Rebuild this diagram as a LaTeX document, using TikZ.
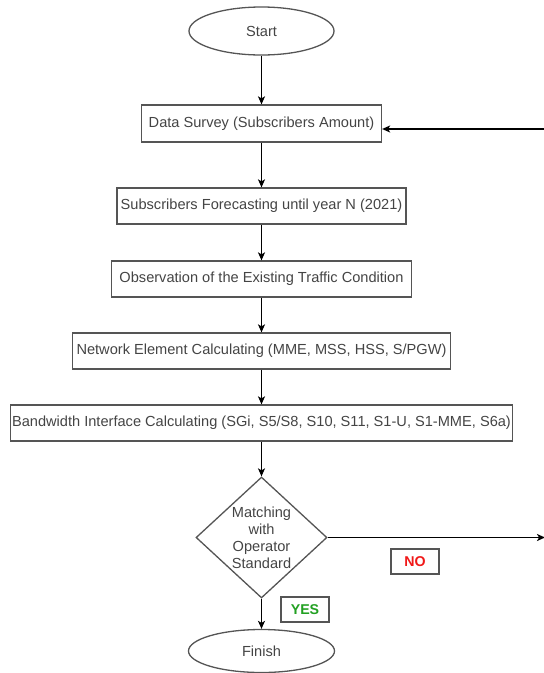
\documentclass[tikz,border=0pt]{standalone}
\usepackage{fontspec}
\setmainfont{Liberation Sans}
\usetikzlibrary{shapes.geometric,arrows.meta}
\definecolor{bordergray}{HTML}{555555}
\definecolor{txtgray}{HTML}{444444}
\definecolor{yesgreen}{HTML}{22A022}
\definecolor{nored}{HTML}{F01818}
\tikzset{
  procbox/.style={draw=bordergray, line width=1.3pt, rectangle, inner sep=0pt, text=txtgray, font=\fontsize{14.6}{16}\selectfont},
  termnode/.style={draw=bordergray, line width=1.3pt, ellipse, inner sep=0pt, text=txtgray, font=\fontsize{14.6}{16}\selectfont},
  decnode/.style={draw=bordergray, line width=1.3pt, diamond, inner sep=0pt, text=txtgray, font=\fontsize{14.6}{17}\selectfont, align=center},
  lblbox/.style={draw=bordergray, line width=1.3pt, rectangle, inner sep=0pt, minimum width=48pt, minimum height=25pt, font=\bfseries\fontsize{14.2}{16}\selectfont},
  arr/.style={draw=black, line width=1.3pt, -{Stealth[length=8pt,width=7pt,inset=2pt]}}
}
\begin{document}
\begin{tikzpicture}[x=1pt,y=-1pt]
\useasboundingbox (0,0) rectangle (544,673);
\node[termnode, minimum width=145pt, minimum height=48pt] (start) at (261.5,31) {Start};
\node[procbox, minimum width=240pt, minimum height=37pt] (data) at (261.5,123.5) {Data Survey (Subscribers Amount)};
\node[procbox, minimum width=289pt, minimum height=36pt] (fore) at (261.5,206) {Subscribers Forecasting until year N (2021)};
\node[procbox, minimum width=300pt, minimum height=36pt] (obs) at (261.5,279) {Observation of the Existing Traffic Condition};
\node[procbox, minimum width=378pt, minimum height=36pt] (net) at (261.5,351) {Network Element Calculating (MME, MSS, HSS, S/PGW)};
\node[procbox, minimum width=502pt, minimum height=36pt] (bw) at (261.5,423) {Bandwidth Interface Calculating (SGi, S5/S8, S10, S11, S1-U, S1-MME, S6a)};
\node[decnode, minimum width=131pt, minimum height=119pt] (dec) at (261.5,537.5) {Matching\\with\\Operator\\Standard};
\node[termnode, minimum width=146pt, minimum height=43pt] (finish) at (261.5,651) {Finish};
\node[lblbox, text=yesgreen] (yes) at (305,609.5) {YES};
\node[lblbox, text=nored] (no) at (415,561.5) {NO};
\coordinate (fb) at (545,129);
\coordinate (noend) at (545,537.5);
\draw[arr] (start) -- (data);
\draw[arr] (data) -- (fore);
\draw[arr] (fore) -- (obs);
\draw[arr] (obs) -- (net);
\draw[arr] (net) -- (bw);
\draw[arr] (bw) -- (dec);
\draw[arr] (dec) -- (finish);
\draw[arr] (dec.east) -- (noend);
\draw[arr] (fb) -- (fb -| data.east);
\end{tikzpicture}
\end{document}
